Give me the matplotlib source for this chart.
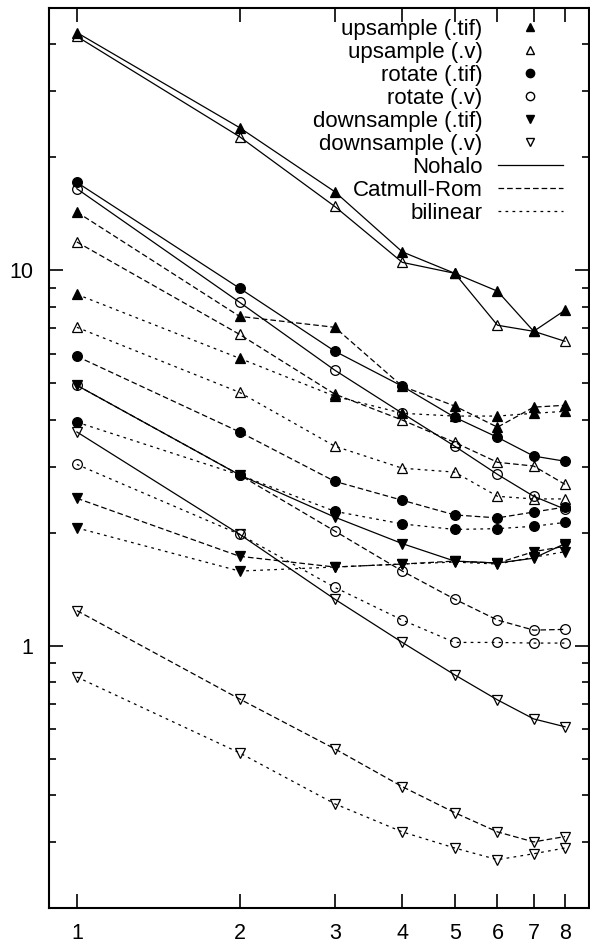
import matplotlib
matplotlib.use('Agg')
import matplotlib.pyplot as plt
from matplotlib.lines import Line2D
from matplotlib.ticker import LogLocator, NullFormatter

plt.rcParams['font.family'] = ['Liberation Sans', 'DejaVu Sans']

# x values (factor)
factor = [1, 2, 3, 4, 5, 6, 7, 8]

# upsample timings
up_tif_nohalo = [43.0, 24.0, 16.2, 11.2, 9.82, 8.80, 6.88, 7.83]
up_v_nohalo = [42.0, 22.7, 14.8, 10.5, 9.82, 7.14, 6.88, 6.47]
up_tif_catrom = [14.3, 7.54, 7.05, 4.91, 4.35, 3.82, 4.32, 4.37]
up_v_catrom = [11.9, 6.75, 4.68, 3.99, 3.48, 3.08, 3.01, 2.69]
up_tif_bilin = [8.63, 5.83, 4.62, 4.16, 4.09, 4.09, 4.16, 4.21]
up_v_bilin = [7.05, 4.73, 3.40, 2.97, 2.90, 2.50, 2.46, 2.46]

# rotate timings
rot_tif_nohalo = [17.15, 8.96, 6.09, 4.91, 4.06, 3.59, 3.20, 3.10]
rot_v_nohalo = [16.5, 8.22, 5.42, 4.16, 3.40, 2.86, 2.50, 2.31]
rot_tif_catrom = [5.90, 3.71, 2.74, 2.44, 2.23, 2.19, 2.27, 2.34]
rot_v_catrom = [4.94, 2.85, 2.02, 1.58, 1.33, 1.17, 1.10, 1.105]
rot_tif_bilin = [3.94, 2.85, 2.28, 2.11, 2.04, 2.05, 2.08, 2.13]
rot_v_bilin = [3.04, 1.98, 1.43, 1.17, 1.02, 1.02, 1.016, 1.016]

# downsample timings
down_tif_nohalo = [4.94, 2.85, 2.20, 1.87, 1.68, 1.66, 1.71, 1.87]
down_v_nohalo = [3.71, 1.98, 1.33, 1.02, 0.836, 0.717, 0.638, 0.608]
down_tif_catrom = [2.47, 1.73, 1.62, 1.65, 1.68, 1.66, 1.78, 1.84]
down_v_catrom = [1.24, 0.721, 0.531, 0.421, 0.359, 0.319, 0.300, 0.310]
down_tif_bilin = [2.06, 1.58, 1.62, 1.65, 1.67, 1.65, 1.72, 1.78]
down_v_bilin = [0.825, 0.518, 0.379, 0.319, 0.289, 0.269, 0.279, 0.289]

solid = '-'
dashed = (0, (4.5, 2.4))
dotted = (0, (2.2, 3.4))

series = [
    (up_tif_nohalo, '^', True, solid), (up_v_nohalo, '^', False, solid),
    (rot_tif_nohalo, 'o', True, solid), (rot_v_nohalo, 'o', False, solid),
    (down_tif_nohalo, 'v', True, solid), (down_v_nohalo, 'v', False, solid),
    (up_tif_catrom, '^', True, dashed), (up_v_catrom, '^', False, dashed),
    (rot_tif_catrom, 'o', True, dashed), (rot_v_catrom, 'o', False, dashed),
    (down_tif_catrom, 'v', True, dashed), (down_v_catrom, 'v', False, dashed),
    (up_tif_bilin, '^', True, dotted), (up_v_bilin, '^', False, dotted),
    (rot_tif_bilin, 'o', True, dotted), (rot_v_bilin, 'o', False, dotted),
    (down_tif_bilin, 'v', True, dotted), (down_v_bilin, 'v', False, dotted),
]

fig = plt.figure(figsize=(5.9, 9.44), dpi=100)
ax = fig.add_axes([49 / 590, 36 / 944, 540 / 590, 900 / 944])

for vals, mk, filled, ls in series:
    ax.plot(factor, vals, color='black', linestyle=ls, linewidth=0.9,
            marker=mk, markersize=7, markeredgewidth=0.9,
            markerfacecolor='black' if filled else 'none', markeredgecolor='black')

ax.set_xscale('log')
ax.set_yscale('log')
ax.set_xlim(0.888, 8.86)
ax.set_ylim(0.2, 50)

ax.set_xticks(factor)
ax.set_xticklabels([str(f) for f in factor])
ax.xaxis.set_minor_locator(matplotlib.ticker.NullLocator())
ax.set_yticks([1, 10])
ax.set_yticklabels(['1', '10'])
ax.yaxis.set_minor_locator(LogLocator(base=10, subs=range(2, 10)))
ax.yaxis.set_minor_formatter(NullFormatter())

ax.tick_params(which='both', direction='in', top=True, right=True,
               labelsize=15.5, width=1.2, colors='black')
ax.tick_params(which='major', length=10, pad=11)
ax.tick_params(which='minor', length=5)
for sp in ax.spines.values():
    sp.set_linewidth(1.5)

# legend
handles = [
    Line2D([], [], linestyle='none', marker='^', color='black', markersize=6),
    Line2D([], [], linestyle='none', marker='^', color='black', markerfacecolor='none', markersize=6),
    Line2D([], [], linestyle='none', marker='o', color='black', markersize=6),
    Line2D([], [], linestyle='none', marker='o', color='black', markerfacecolor='none', markersize=6),
    Line2D([], [], linestyle='none', marker='v', color='black', markersize=6),
    Line2D([], [], linestyle='none', marker='v', color='black', markerfacecolor='none', markersize=6),
    Line2D([], [], linestyle=solid, color='black', linewidth=0.9),
    Line2D([], [], linestyle=dashed, color='black', linewidth=0.9),
    Line2D([], [], linestyle=dotted, color='black', linewidth=0.9),
]
labels = ['upsample (.tif)', 'upsample (.v)', 'rotate (.tif)', 'rotate (.v)',
          'downsample (.tif)', 'downsample (.v)', 'Nohalo', 'Catmull-Rom', 'bilinear']
ax.legend(handles, labels, loc='upper right', bbox_to_anchor=(0.952, 0.9875),
          frameon=False, markerfirst=False, fontsize=16, handlelength=2.95,
          handletextpad=0.68, labelspacing=0.09, borderpad=0, borderaxespad=0)

fig.savefig('out.png', dpi=100)
